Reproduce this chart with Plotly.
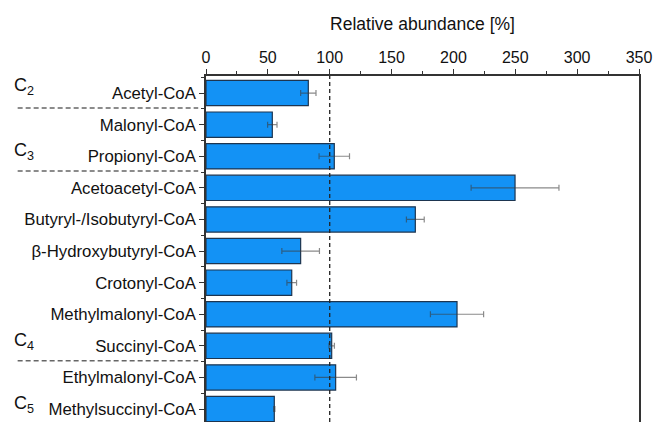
import plotly.graph_objects as go

# Acyl-CoA species, top to bottom
categories = [
    "Acetyl-CoA", "Malonyl-CoA", "Propionyl-CoA", "Acetoacetyl-CoA",
    "Butyryl-/Isobutyryl-CoA", "β-Hydroxybutyryl-CoA", "Crotonyl-CoA",
    "Methylmalonyl-CoA", "Succinyl-CoA", "Ethylmalonyl-CoA", "Methylsuccinyl-CoA",
]
abundance = [82.7, 53.6, 103.7, 249.8, 169.2, 76.5, 69.3, 202.9, 101.6, 104.8, 55.2]
abundance_err = [6.2, 3.8, 12.3, 35.5, 7.2, 15.2, 3.9, 21.5, 2.2, 16.8, 0.5]

# Carbon-chain groups: label, label position (row), separator below the group (row)
group_labels = ["C<sub>2</sub>", "C<sub>3</sub>", "C<sub>4</sub>", "C<sub>5</sub>"]
group_label_rows = [-0.2, 1.85, 7.85, 9.85]
group_separators = [0.47, 2.47, 8.47]

x_ticks = [0, 50, 100, 150, 200, 250, 300, 350]
reference_level = 100

rows = list(range(len(categories)))
FONT = "Liberation Sans, Arial, sans-serif"
AXIS = "#333333"

fig = go.Figure()
fig.add_trace(go.Bar(
    x=abundance, y=rows, orientation="h", width=0.8,
    marker=dict(color="#1392F5", line=dict(color="#1d3550", width=1.2)),
    error_x=dict(type="data", array=abundance_err, visible=True,
                 color="rgba(60,60,60,0.6)", thickness=1.2, width=3),
    showlegend=False,
))

# 100 % reference line
fig.add_shape(type="line", xref="x", yref="paper", x0=reference_level, x1=reference_level,
              y0=0, y1=1, line=dict(color="#222222", width=1.3, dash="4px,3px"))

# group separators in the label margin
for ys in group_separators:
    fig.add_shape(type="line", xref="paper", yref="y", x0=-0.435, x1=-0.018,
                  y0=ys, y1=ys, line=dict(color="#666666", width=1.5, dash="5px,3px"))

for lab, yr in zip(group_labels, group_label_rows):
    fig.add_annotation(text=lab, xref="paper", yref="y", x=-0.447, y=yr,
                       xanchor="left", yanchor="middle", showarrow=False,
                       font=dict(family=FONT, size=18, color="#111111"))

fig.update_xaxes(
    side="top", range=[0, 350], tickvals=x_ticks,
    ticks="outside", ticklen=5, tickwidth=1.3, tickcolor=AXIS,
    minor=dict(dtick=25, tick0=0, ticks="outside", ticklen=3, tickwidth=1.2, tickcolor=AXIS),
    showline=True, linecolor=AXIS, linewidth=1.5, mirror=False,
    showgrid=False, zeroline=False,
    tickfont=dict(family=FONT, size=16, color="#111111"),
    title=dict(text="Relative abundance [%]", standoff=14,
               font=dict(family=FONT, size=17.5, color="#111111")),
)
fig.update_yaxes(
    range=[10.41, -0.54], tickmode="array", tickvals=rows, ticktext=categories,
    ticks="outside", ticklen=5, tickwidth=1.3, tickcolor=AXIS,
    minor=dict(dtick=1, tick0=0.5, ticks="outside", ticklen=3, tickwidth=1.2, tickcolor=AXIS),
    showline=True, linecolor=AXIS, linewidth=1.5, mirror=True,
    showgrid=False, zeroline=False,
    tickfont=dict(family=FONT, size=16.8, color="#111111"),
)
fig.update_layout(
    width=654, height=422,
    margin=dict(l=206, r=15, t=76, b=0),
    plot_bgcolor="white", paper_bgcolor="white",
    bargap=0.2,
)
fig.write_html("out.html")
